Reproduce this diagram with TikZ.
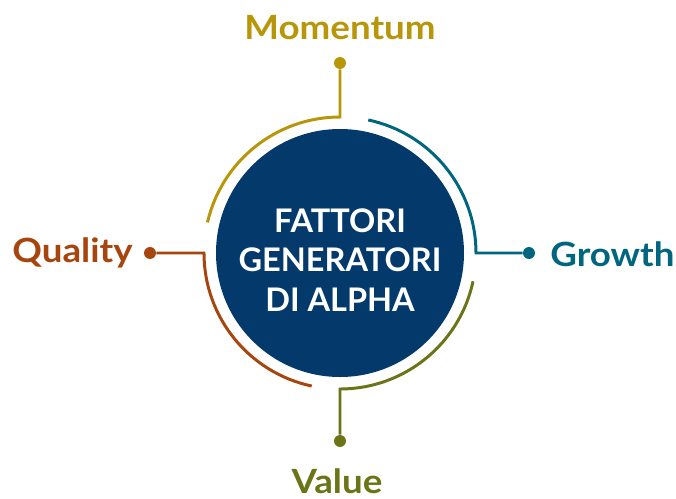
\documentclass[tikz,border=0pt]{standalone}
\usepackage{fontspec}
\setmainfont{Lato}
\usepackage{tikz}
\definecolor{navyblu}{HTML}{033A6B}
\definecolor{oro}{HTML}{B8960A}
\definecolor{petrolio}{HTML}{00667F}
\definecolor{oliva}{HTML}{6B7518}
\definecolor{ruggine}{HTML}{A6460E}
\newfontfamily\lblfont{Lato}[FakeStretch=1.1]

\begin{document}
\begin{tikzpicture}[x=0.02cm, y=0.02cm,
    arcline/.style={line width=1.7pt},
    dotnode/.style={circle, fill, inner sep=0pt, minimum size=6.8pt},
    lbl/.style={font=\lblfont\bfseries\fontsize{19}{22}\selectfont, inner sep=0pt}]
    \useasboundingbox (-340,-245) rectangle (336,253);
    %%Cerchio centrale
    \fill[navyblu] (0,0) circle (124);
    \node[text=white, align=center, font=\bfseries\fontsize{18.5}{22.4}\selectfont] (centro) at (0,-7)
        {FATTORI\\GENERATORI\\DI ALPHA};
    %%Momentum
    \node[dotnode, oro] (dotM) at (0,190) {};
    \coordinate (mA) at (0,136);
    \draw[arcline, oro] (dotM) -- (mA) arc (90:167:136);
    \node[lbl, oro, anchor=base] (momentum) at (0,214) {Momentum};
    %%Growth
    \node[dotnode, petrolio] (dotG) at (189,0) {};
    \coordinate (gA) at (136,0);
    \draw[arcline, petrolio] (dotG) -- (gA) arc (0:78:136);
    \node[lbl, petrolio, anchor=base west] (growth) at (210,-13) {Growth};
    %%Value
    \node[dotnode, oliva] (dotV) at (0,-188) {};
    \coordinate (vA) at (0,-136);
    \draw[arcline, oliva] (dotV) -- (vA) arc (-90:-12:136);
    \node[lbl, oliva, anchor=base] (value) at (-3,-240) {Value};
    %%Quality
    \node[dotnode, ruggine] (dotQ) at (-190,0) {};
    \coordinate (qA) at (-136,0);
    \draw[arcline, ruggine] (dotQ) -- (qA) arc (180:258:136);
    \node[lbl, ruggine, anchor=base east] (quality) at (-207,-9) {Quality};
\end{tikzpicture}
\end{document}
